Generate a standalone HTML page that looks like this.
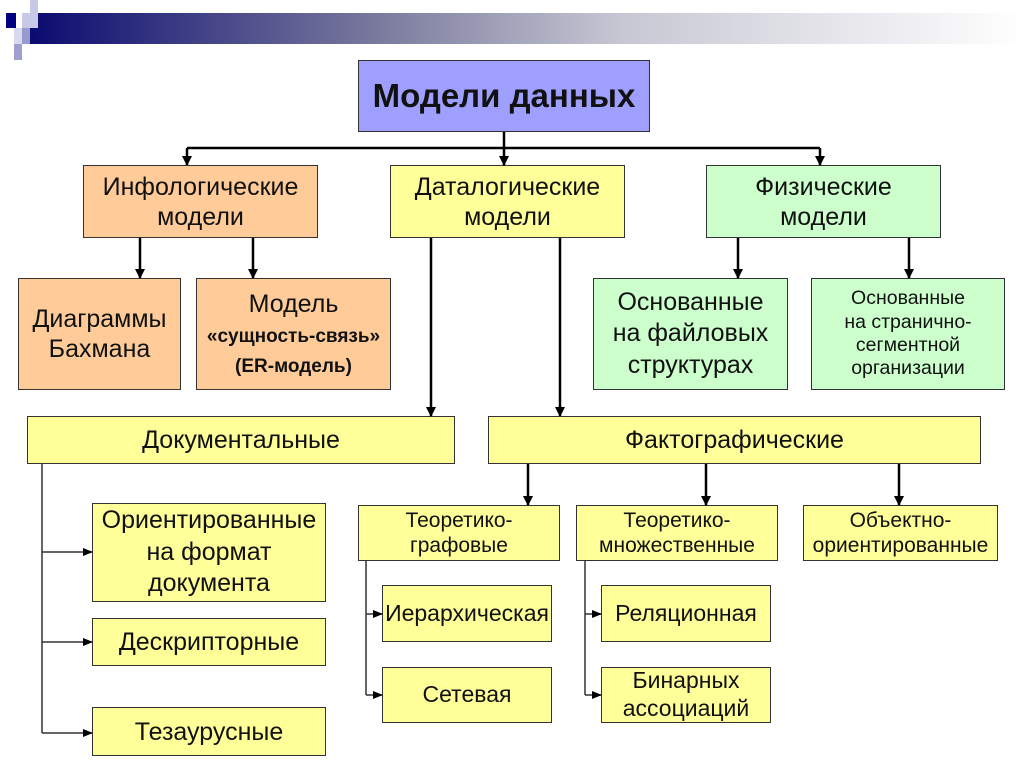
<!DOCTYPE html>
<html><head><meta charset="utf-8"><style>
body{margin:0;width:1024px;height:767px;background:#fff;position:relative;overflow:hidden;font-family:"Liberation Sans",sans-serif}
.b{position:absolute;box-sizing:border-box;border:1.5px solid #333;display:flex;align-items:center;justify-content:center;text-align:center;color:#111;line-height:1.2;white-space:nowrap}
.o{background:#ffcc99}.y{background:#ffff99}.g{background:#ccffcc}
svg{position:absolute;left:0;top:0;z-index:2}
</style></head><body>
<div style="position:absolute;left:30px;top:13px;width:994px;height:31px;background:linear-gradient(90deg,#0b0b70,#7a7a9e 35%,#c8c8d4 60%,#fff)"></div>
<div style="position:absolute;left:6px;top:13px;width:10px;height:15px;background:#000080"></div>
<div style="position:absolute;left:22px;top:13px;width:15px;height:15px;background:#c8c8e8"></div>
<div style="position:absolute;left:30px;top:0;width:8px;height:28px;background:#c8c8e8"></div>
<div style="position:absolute;left:14px;top:28px;width:16px;height:16px;background:#d8d8ee"></div>
<div style="position:absolute;left:22px;top:28px;width:8px;height:16px;background:#9a9ad0"></div>
<div style="position:absolute;left:14px;top:44px;width:8px;height:16px;background:#a0a0d0"></div>
<div class="b" style="left:358px;top:60px;width:292px;height:72px;background:#9f9fff;font-weight:bold;font-size:33px">Модели данных</div>
<div class="b o" style="left:83px;top:165px;width:235px;height:73px;font-size:25px">Инфологические<br>модели</div>
<div class="b y" style="left:390px;top:165px;width:235px;height:73px;font-size:25px">Даталогические<br>модели</div>
<div class="b g" style="left:706px;top:165px;width:235px;height:73px;font-size:25px">Физические<br>модели</div>
<div class="b o" style="left:18px;top:278px;width:163px;height:112px;font-size:25px">Диаграммы<br>Бахмана</div>
<div class="b o" style="left:196px;top:278px;width:195px;height:112px;font-size:25px"><div>Модель<br><b style="font-size:19px">«сущность-связь»<br>(ER-модель)</b></div></div>
<div class="b g" style="left:593px;top:278px;width:195px;height:112px;font-size:25px;line-height:1.25">Основанные<br>на файловых<br>структурах</div>
<div class="b g" style="left:811px;top:278px;width:194px;height:112px;font-size:19.5px">Основанные<br>на странично-<br>сегментной<br>организации</div>
<div class="b y" style="left:27px;top:416px;width:428px;height:48px;font-size:25px">Документальные</div>
<div class="b y" style="left:488px;top:416px;width:493px;height:48px;font-size:25px">Фактографические</div>
<div class="b y" style="left:92px;top:503px;width:234px;height:99px;font-size:25px;line-height:1.27">Ориентированные<br>на формат<br>документа</div>
<div class="b y" style="left:92px;top:618px;width:234px;height:48px;font-size:25px">Дескрипторные</div>
<div class="b y" style="left:92px;top:707px;width:234px;height:49px;font-size:25px">Тезаурусные</div>
<div class="b y" style="left:358px;top:505px;width:202px;height:56px;font-size:21px">Теоретико-<br>графовые</div>
<div class="b y" style="left:576px;top:505px;width:202px;height:56px;font-size:21px">Теоретико-<br>множественные</div>
<div class="b y" style="left:803px;top:505px;width:195px;height:56px;font-size:21px">Объектно-<br>ориентированные</div>
<div class="b y" style="left:382px;top:585px;width:170px;height:57px;font-size:23px">Иерархическая</div>
<div class="b y" style="left:382px;top:667px;width:170px;height:56px;font-size:23px">Сетевая</div>
<div class="b y" style="left:601px;top:585px;width:170px;height:57px;font-size:23px">Реляционная</div>
<div class="b y" style="left:601px;top:667px;width:170px;height:56px;font-size:23px">Бинарных<br>ассоциаций</div>
<svg width="1024" height="767">
<defs><marker id="a" markerWidth="10" markerHeight="10" refX="9" refY="5" orient="auto" markerUnits="userSpaceOnUse"><path d="M0,0L10,5L0,10z" fill="#000"/></marker>
<marker id="s" markerWidth="10" markerHeight="8" refX="9" refY="4" orient="auto" markerUnits="userSpaceOnUse"><path d="M0,0L10,4L0,8z" fill="#000"/></marker></defs>
<g stroke="#000" stroke-width="2.5" fill="none" marker-end="url(#a)">
<path d="M504 132V148M187 148H820" marker-end="none"/>
<path d="M187 148V165"/><path d="M504 148V165"/><path d="M820 148V165"/>
<path d="M140 238V278"/><path d="M253 238V278"/><path d="M738 238V278"/><path d="M909 238V278"/>
<path d="M431 238V416"/><path d="M560 238V416"/>
<path d="M528 464V505"/><path d="M706 464V505"/><path d="M899 464V505"/>
</g>
<g stroke="#333" stroke-width="1.5" fill="none" marker-end="url(#s)">
<path d="M42 464V733M366 561V695M585 561V695" marker-end="none"/>
<path d="M42 552H92"/><path d="M42 642H92"/><path d="M42 733H92"/>
<path d="M366 614H382"/><path d="M366 695H382"/><path d="M585 614H601"/><path d="M585 695H601"/>
</g>
</svg>
</body></html>
